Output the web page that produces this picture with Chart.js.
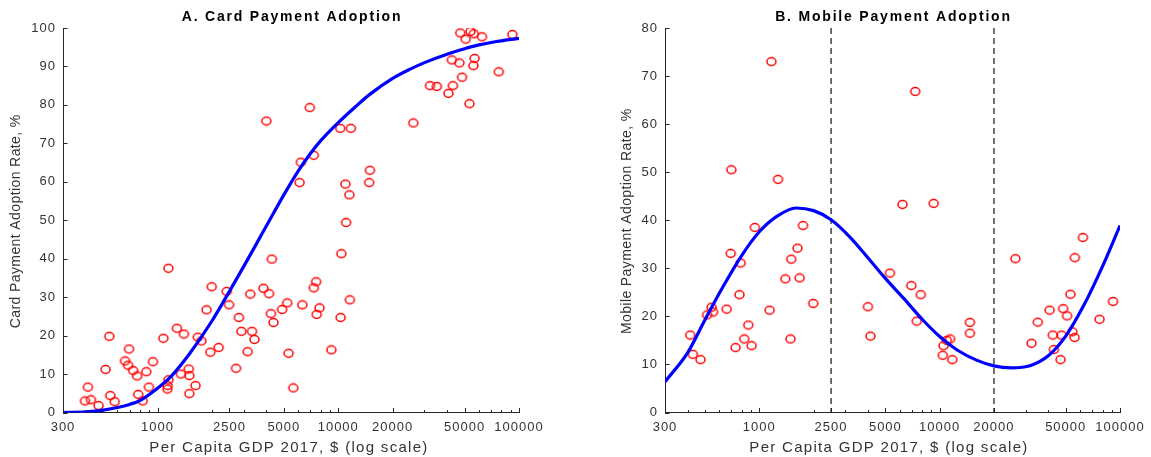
<!DOCTYPE html>
<html><head><meta charset="utf-8">
<script src="https://cdn.jsdelivr.net/npm/chart.js@4.4.1/dist/chart.umd.min.js"></script>
<style>
html,body{margin:0;padding:0;background:#fff;}
#wrap{position:relative;width:1151px;height:457px;overflow:hidden;}
canvas{position:absolute;top:0;}
</style></head><body>
<div id="wrap">
<canvas id="cA" width="575" height="457" style="left:0"></canvas>
<canvas id="cB" width="576" height="457" style="left:575px"></canvas>
</div>
<script>
// ---------- DATA ----------
const xTicks = [300, 1000, 2500, 5000, 10000, 20000, 50000, 100000];
const xMinor = [400, 500, 600, 700, 800, 900, 2000, 3000, 4000, 6000, 7000, 8000, 9000, 30000, 40000, 60000, 70000, 80000, 90000];
const cardYTicks = [0, 10, 20, 30, 40, 50, 60, 70, 80, 90, 100];
const mobileYTicks = [0, 10, 20, 30, 40, 50, 60, 70, 80];

const cardGdp = [47300, 53900, 56200, 50700, 62400, 91900, 42500, 46800, 56800, 56000, 77300, 48400, 32200, 35100, 43100, 40700, 53200, 26000, 4000, 6960, 10250, 11740, 7320, 6210, 6110, 10950, 11520, 14970, 14830, 11050,
  1149, 10400, 4290, 1995, 2415, 2490, 3260, 3855, 4140, 4240, 4380, 2820, 2910, 3330, 3440, 3150, 2720, 1867, 2180, 1960, 1670, 1750, 1280, 1400, 1077, 1347, 1490, 1500, 1623, 1500, 1149, 1137, 1134,
  541, 516, 548, 580, 412, 397, 428, 472, 696, 661, 687, 733, 771, 867, 944, 896, 782, 828,
  4890, 5220, 5310, 5640, 6330, 7320, 7540, 7600, 7880, 9160, 10300, 11590];
const cardRate = [98.7, 99.1, 98.5, 97.1, 97.7, 98.3, 91.7, 90.9, 92.1, 90.2, 88.6, 87.2, 85.0, 84.8, 85.0, 83.0, 80.3, 75.3, 75.8, 79.3, 73.9, 73.9, 66.9, 65.1, 59.8, 59.4, 56.6, 63.0, 59.8, 49.4,
  37.5, 41.3, 39.9, 32.7, 31.5, 28.0, 30.8, 32.3, 30.9, 25.7, 23.4, 24.7, 21.1, 21.1, 19.0, 15.8, 11.5, 26.7, 16.9, 15.7, 19.6, 18.6, 21.9, 20.4, 19.3, 10.0, 11.3, 9.6, 7.0, 4.9, 8.5, 7.0, 6.1,
  19.8, 11.2, 4.4, 2.8, 6.6, 3.0, 3.3, 1.8, 16.5, 13.4, 12.3, 10.9, 9.5, 10.6, 13.2, 6.6, 4.7, 3.0,
  26.8, 28.5, 15.4, 6.4, 28.0, 32.4, 34.0, 25.5, 27.2, 16.3, 24.7, 29.3];

const cardFitGdp = [300, 400, 500, 600, 700, 800, 1000, 1200, 1500, 2000, 2500, 3000, 3500, 4000, 5000, 6000, 7000, 8000, 10000, 12500, 15000, 20000, 25000, 30000, 40000, 50000, 60000, 75000, 100000];
const cardFitRate = [0, 0.15, 0.6, 1.3, 2.1, 3.1, 6.3, 9.6, 15.2, 23.8, 31.5, 38.0, 43.6, 48.5, 56.6, 62.8, 67.3, 70.7, 75.4, 79.6, 82.8, 86.9, 89.3, 91.0, 93.2, 94.6, 95.6, 96.5, 97.3];

const mobileGdp = [1167, 7320, 700, 1270, 6220, 9260, 945, 1746, 414, 428, 472, 514, 544, 554, 659, 694, 788, 776, 738, 825, 869, 906, 1140, 1489, 1395, 1503, 1628, 1673, 1991,
  4000, 4135, 5300, 6960, 7860, 7460, 10410, 10500, 10950, 11430, 11750, 14720, 14720,
  26300, 32300, 35000, 40700, 42400, 43000, 46800, 47400, 48400, 50900, 53100, 54400, 56200, 56000, 62300, 77000, 91500];
const mobileRate = [73.0, 66.8, 50.5, 48.5, 43.3, 43.5, 38.5, 38.9, 16.1, 12.1, 11.0, 20.3, 21.9, 20.9, 21.5, 33.1, 31.1, 24.5, 13.5, 15.3, 18.2, 13.9, 21.3, 15.3, 27.8, 31.9, 34.2, 28.0, 22.7,
  22.0, 15.9, 29.0, 26.4, 24.5, 19.0, 11.9, 13.9, 15.0, 15.3, 11.0, 18.75, 16.5,
  32.0, 14.4, 18.8, 21.3, 16.1, 13.1, 11.0, 16.1, 21.6, 20.1, 24.6, 16.8, 32.2, 15.6, 36.4, 19.4, 23.1];

const mobileFitGdp = [300, 400, 500, 630, 800, 1000, 1250, 1600, 2000, 2500, 3200, 4000, 5000, 6300, 8000, 10000, 12500, 16000, 20000, 25000, 32000, 40000, 50000, 63000, 80000, 100000];
const mobileFitRate = [6.4, 12.4, 19.3, 26.2, 32.7, 37.6, 40.8, 42.55, 42.0, 40.1, 36.4, 32.2, 27.9, 23.8, 19.4, 15.8, 13.0, 10.9, 9.7, 9.3, 9.8, 11.8, 15.9, 22.3, 30.4, 38.9];

const thresholds = [2500, 20000];

const titles = ['A. Card Payment Adoption', 'B. Mobile Payment Adoption'];
const yTitles = ['Card Payment Adoption Rate, %', 'Mobile Payment Adoption Rate, %'];
const xTitle = 'Per Capita GDP 2017, $ (log scale)';

// ---------- HELPERS ----------
const FONT = '"Liberation Sans", Arial, Helvetica, sans-serif';
const pts = (xs, ys) => xs.map((v, i) => ({x: v, y: ys[i]}));

function ringMarker() {
  const c = document.createElement('canvas');
  c.width = 13; c.height = 11;
  const g = c.getContext('2d');
  g.strokeStyle = '#FF0000';
  g.lineWidth = 1.5;
  g.beginPath();
  g.ellipse(6.5, 5.5, 4.5, 3.9, 0, 0, Math.PI * 2);
  g.stroke();
  return c;
}
const MARKER = ringMarker();

const matlabAxes = {
  id: 'matlabAxes',
  beforeDraw(chart) { chart.ctx.letterSpacing = '1px'; },
  afterDraw(chart, args, o) {
    const {ctx, chartArea: a, scales: {x, y}} = chart;
    ctx.save();
    ctx.strokeStyle = '#262626';
    ctx.lineWidth = 1;
    ctx.beginPath();
    xTicks.forEach(v => { const p = Math.round(x.getPixelForValue(v)) + 0.5; ctx.moveTo(p, a.bottom); ctx.lineTo(p, a.bottom - 4.5); });
    xMinor.forEach(v => { const p = Math.round(x.getPixelForValue(v)) + 0.5; ctx.moveTo(p, a.bottom); ctx.lineTo(p, a.bottom - 2.5); });
    o.yTicks.forEach(v => { const p = Math.round(y.getPixelForValue(v)) + 0.5; ctx.moveTo(a.left, p); ctx.lineTo(a.left + 4.5, p); });
    ctx.stroke();
    // title
    ctx.fillStyle = '#000';
    ctx.font = 'bold 14px ' + FONT;
    ctx.letterSpacing = '1.8px';
    ctx.textAlign = 'center';
    ctx.textBaseline = 'middle';
    ctx.fillText(o.title, (a.left + a.right) / 2 + 1, 17);
    // x title
    ctx.fillStyle = '#333';
    ctx.font = '15px ' + FONT;
    ctx.letterSpacing = '1.3px';
    ctx.fillText(xTitle, o.xTitleX, 448);
    // y title
    ctx.font = '14px ' + FONT;
    ctx.letterSpacing = '0.4px';
    ctx.translate(o.yTitleX, (a.top + a.bottom) / 2 + 1);
    ctx.rotate(-Math.PI / 2);
    ctx.fillText(o.yTitle, 0, 0);
    ctx.restore();
  }
};

function makeChart(id, cfg) {
  const datasets = [
    {label: 'fit', data: pts(cfg.fitX, cfg.fitY), showLine: true, pointRadius: 0, borderColor: '#0000FF', borderWidth: 3.2, cubicInterpolationMode: 'monotone', order: 0},
    {label: 'obs', data: pts(cfg.obsX, cfg.obsY), showLine: false, pointStyle: MARKER, pointRadius: 4, borderColor: '#FF0000', backgroundColor: 'rgba(0,0,0,0)', borderWidth: 1.5, order: 1}
  ];
  (cfg.vlines || []).forEach(v => datasets.push({label: 'thr' + v, data: [{x: v, y: cfg.yMax}, {x: v, y: 0}], showLine: true, pointRadius: 0, borderColor: '#404040', borderWidth: 1.5, borderDash: [6, 4], order: 2}));
  return new Chart(document.getElementById(id), {
    type: 'scatter',
    data: {datasets},
    options: {
      responsive: false,
      animation: false,
      events: [],
      layout: {padding: {left: 0, right: cfg.padRight, top: 28, bottom: 0}},
      scales: {
        x: {
          type: 'logarithmic', min: 300, max: 100000,
          afterBuildTicks: s => { s.ticks = xTicks.map(v => ({value: v})); },
          afterFit: s => { s.height = 44.5; s.paddingLeft = 0; s.paddingRight = 0; },
          ticks: {autoSkip: false, maxRotation: 0, minRotation: 0, padding: 7.5, color: '#333', font: {family: FONT, size: 13}, callback: v => String(v)},
          grid: {display: false, drawTicks: false, tickLength: 0},
          border: {display: true, color: '#262626', width: 1}
        },
        y: {
          type: 'linear', min: 0, max: cfg.yMax,
          afterBuildTicks: s => { s.ticks = cfg.yTicks.map(v => ({value: v})); },
          afterFit: s => { s.width = cfg.left; s.paddingTop = 0; s.paddingBottom = 0; },
          ticks: {padding: 7, color: '#333', font: {family: FONT, size: 13}, callback: v => String(v)},
          grid: {display: false, drawTicks: false, tickLength: 0},
          border: {display: true, color: '#262626', width: 1}
        }
      },
      plugins: {
        legend: {display: false},
        tooltip: {enabled: false},
        matlabAxes: {title: cfg.title, yTitle: cfg.yTitle, yTicks: cfg.yTicks, xTitleX: cfg.xTitleX, yTitleX: cfg.yTitleX}
      }
    },
    plugins: [matlabAxes]
  });
}

makeChart('cA', {obsX: cardGdp, obsY: cardRate, fitX: cardFitGdp, fitY: cardFitRate, yMax: 100, yTicks: cardYTicks,
  left: 63, padRight: 56, title: titles[0], yTitle: yTitles[0], xTitleX: 289, yTitleX: 16.5});
makeChart('cB', {obsX: mobileGdp, obsY: mobileRate, fitX: mobileFitGdp, fitY: mobileFitRate, yMax: 80, yTicks: mobileYTicks, vlines: thresholds,
  left: 90, padRight: 31, title: titles[1], yTitle: yTitles[1], xTitleX: 314, yTitleX: 52});
</script>
</body></html>
